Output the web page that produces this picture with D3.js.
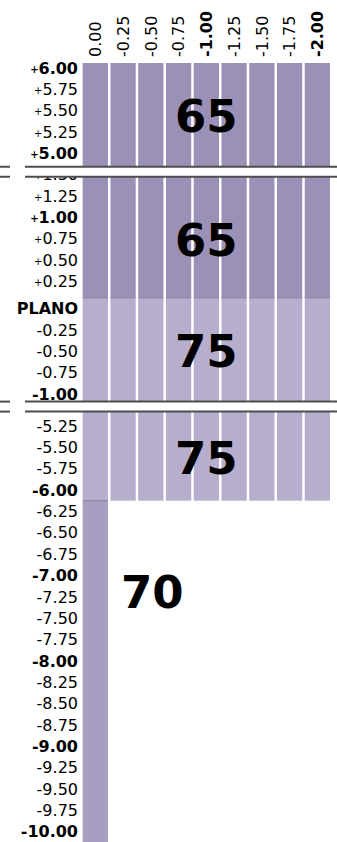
<!DOCTYPE html>
<html>
<head>
<meta charset="utf-8">
<script src="https://cdn.jsdelivr.net/npm/d3@7/dist/d3.min.js"></script>
<style>
html,body{margin:0;padding:0;background:#fff;}
svg{display:block;}
</style>
</head>
<body>
<svg id="chart" width="337" height="842"></svg>
<script>
// ---- data ----
const columns = ["0.00","-0.25","-0.50","-0.75","-1.00","-1.25","-1.50","-1.75","-2.00"];
const boldColumns = ["-1.00","-2.00"];
const rows = ["+6.00","+5.75","+5.50","+5.25","+5.00","+1.50","+1.25","+1.00","+0.75","+0.50","+0.25","PLANO",
  "-0.25","-0.50","-0.75","-1.00","-5.25","-5.50","-5.75","-6.00","-6.25","-6.50","-6.75","-7.00","-7.25",
  "-7.50","-7.75","-8.00","-8.25","-8.50","-8.75","-9.00","-9.25","-9.50","-9.75","-10.00"];
const boldRows = ["+6.00","+5.00","+1.00","PLANO","-1.00","-6.00","-7.00","-8.00","-9.00","-10.00"];
const breakRows = ["+1.50","-5.25"];
const blockValues = [65, 65, 75, 75, 70];
const blockFirstRow = ["+6.00","+1.50","PLANO","-5.25","-6.25"];
const blockLastRow = ["+5.00","+0.25","-1.00","-6.00","-10.00"];
const blockColumnCount = [9, 9, 9, 9, 1];

// ---- layout ----
const W = 337, H = 842;
const topY = 63, rowH = 21.35;
const breakShift = [0, rowH / 2];
const svg = d3.select("#chart");

const x = d3.scaleBand().domain(columns).range([82.7, 330]).paddingInner(0.09);
const yBand = d3.scaleBand().domain(rows).range([topY, topY + rows.length * rowH]);
const color = d3.scaleOrdinal().domain([65, 70, 75]).range(["#9b90b6", "#a79ec1", "#b7aecd"]);

function shiftOf(r) {
  const i = rows.indexOf(r);
  let s = 0;
  breakRows.forEach((b, k) => { if (i >= rows.indexOf(b)) s += breakShift[k]; });
  return s;
}
const yTop = r => yBand(r) + shiftOf(r);
const breakY = b => yBand(b) + shiftOf(rows[rows.indexOf(b) - 1]);

const blocks = blockValues.map((v, i) => {
  const f = blockFirstRow[i], l = blockLastRow[i];
  let y0 = yTop(f), y1 = yTop(l) + rowH;
  let vis0 = y0, vis1 = Math.min(y1, H);
  if (breakRows.includes(f)) { y0 = breakY(f) + 7; vis0 = y0 + 1; }
  const next = rows[rows.indexOf(l) + 1];
  if (next && breakRows.includes(next)) { vis1 = breakY(next) - 4; }
  const prev = rows[rows.indexOf(f) - 1];
  const edge = prev && !breakRows.includes(f);
  return { value: v, cols: columns.slice(0, blockColumnCount[i]), y0, y1, vis0, vis1, edge };
});

// bars
const gBars = svg.append("g");
blocks.forEach(b => {
  gBars.selectAll(null).data(b.cols).enter().append("rect")
    .attr("x", c => x(c)).attr("width", x.bandwidth())
    .attr("y", b.y0).attr("height", b.y1 - b.y0)
    .attr("fill", color(b.value));
  if (b.edge) {
    gBars.selectAll(null).data(b.cols).enter().append("rect")
      .attr("x", c => x(c)).attr("width", x.bandwidth())
      .attr("y", b.y0 - 0.5).attr("height", 1)
      .attr("fill", "#8a7fa8");
  }
});

// row labels
const gRows = svg.append("g").attr("font-family", "DejaVu Sans").attr("font-size", 16).attr("fill", "#000");
rows.forEach(r => {
  const t = gRows.append("text")
    .attr("x", 78).attr("y", yTop(r) + rowH / 2).attr("dy", "0.36em")
    .attr("text-anchor", "end")
    .attr("font-weight", boldRows.includes(r) ? "bold" : "normal");
  if (r.startsWith("+")) {
    t.append("tspan").attr("font-size", 10).attr("dy", "-0.1em").text("+");
    t.append("tspan").attr("dy", "0.0625em").text(r.slice(1));
  } else {
    t.text(r);
  }
});

// column headers
const gCols = svg.append("g").attr("font-family", "DejaVu Sans").attr("font-size", 16).attr("fill", "#000");
columns.forEach(c => {
  const cx = x(c) + x.bandwidth() / 2 + 5.8;
  gCols.append("text")
    .attr("transform", `translate(${cx},57) rotate(-90)`)
    .attr("text-anchor", "start")
    .attr("font-weight", boldColumns.includes(c) ? "bold" : "normal")
    .text(c);
});

// axis breaks
const gBreak = svg.append("g");
breakRows.forEach(b => {
  const by = breakY(b);
  gBreak.append("rect").attr("x", 0).attr("width", W).attr("y", by - 3).attr("height", 10).attr("fill", "#fff");
  [by - 3, by + 7].forEach(ly => {
    gBreak.append("line").attr("x1", 0).attr("x2", 10).attr("y1", ly).attr("y2", ly)
      .attr("stroke", "#4d4d4d").attr("stroke-width", 2);
    gBreak.append("line").attr("x1", 25).attr("x2", W).attr("y1", ly).attr("y2", ly)
      .attr("stroke", "#4d4d4d").attr("stroke-width", 2);
  });
});

// value labels
const gVals = svg.append("g").attr("font-family", "DejaVu Sans").attr("font-weight", "bold")
  .attr("font-size", 45).attr("fill", "#000").attr("text-anchor", "middle");
const seventyCol = "-0.50", seventyRow = "-7.25";
blocks.forEach(b => {
  let cx, cy;
  if (b.cols.length === columns.length) {
    cx = (x.range()[0] + x.range()[1]) / 2;
    cy = (b.vis0 + b.vis1) / 2 + 1.5;
  } else {
    cx = x(seventyCol) + x.bandwidth() / 2 + 1.5;
    cy = yTop(seventyRow) + rowH / 2 - 5;
  }
  gVals.append("text").attr("x", cx).attr("y", cy).attr("dy", "0.36em").text(b.value);
});
</script>
</body>
</html>
